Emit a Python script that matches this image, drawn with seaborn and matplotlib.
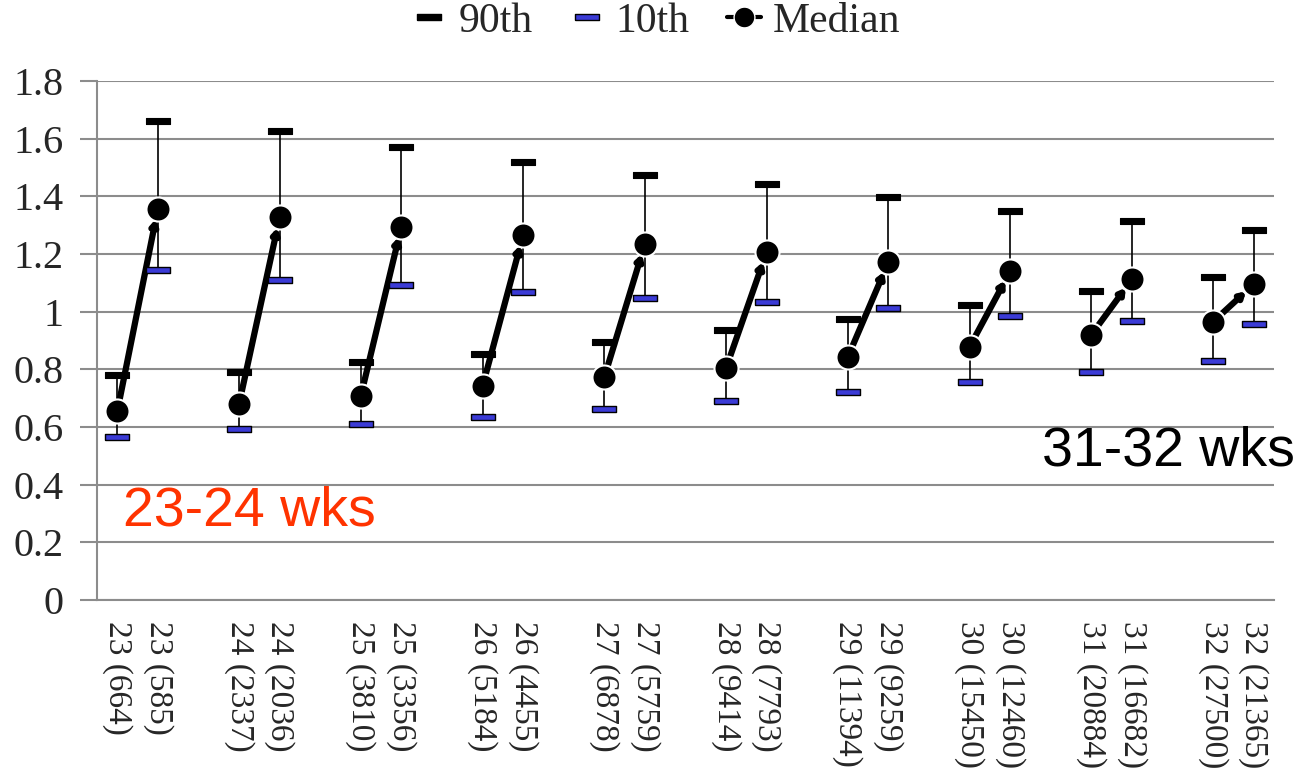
import numpy as np
import pandas as pd
import seaborn as sns
import matplotlib
matplotlib.use("Agg")
import matplotlib.pyplot as plt
from matplotlib.lines import Line2D

# Gestational week groups, with birth counts for the two compared cohorts
weeks = [23, 24, 25, 26, 27, 28, 29, 30, 31, 32]
n_first = [664, 2337, 3810, 5184, 6878, 9414, 11394, 15450, 20884, 27500]
n_second = [585, 2036, 3356, 4455, 5759, 7793, 9259, 12460, 16682, 21365]

# Percentiles for the first cohort of each week
p90_first = [0.78, 0.79, 0.825, 0.853, 0.895, 0.936, 0.975, 1.022, 1.070, 1.120]
med_first = [0.655, 0.680, 0.708, 0.742, 0.773, 0.805, 0.843, 0.878, 0.920, 0.965]
p10_first = [0.565, 0.593, 0.610, 0.636, 0.662, 0.690, 0.722, 0.757, 0.792, 0.830]

# Percentiles for the second cohort of each week
p90_second = [1.660, 1.625, 1.572, 1.520, 1.473, 1.442, 1.397, 1.350, 1.315, 1.282]
med_second = [1.357, 1.327, 1.295, 1.266, 1.235, 1.207, 1.172, 1.140, 1.112, 1.095]
p10_second = [1.145, 1.110, 1.092, 1.067, 1.046, 1.033, 1.012, 0.985, 0.968, 0.958]

y_ticks = [0, 0.2, 0.4, 0.6, 0.8, 1.0, 1.2, 1.4, 1.6, 1.8]

# Category axis: two labelled slots per week and an empty slot between weeks
categories = []
for i, w in enumerate(weeks):
    categories.append(f"{w} ({n_first[i]})")
    categories.append(f"{w} ({n_second[i]})")
    if i < len(weeks) - 1:
        categories.append("")

rows = []
for i, w in enumerate(weeks):
    for lab, p90, med, p10, grp in [
        (f"{w} ({n_first[i]})", p90_first[i], med_first[i], p10_first[i], "first"),
        (f"{w} ({n_second[i]})", p90_second[i], med_second[i], p10_second[i], "second"),
    ]:
        rows.append(dict(week=w, label=lab, pos=categories.index(lab) + 0.5,
                         p90=p90, median=med, p10=p10, group=grp))
df = pd.DataFrame(rows)

sns.set_style("white")
plt.rcParams["font.family"] = ["Liberation Serif", "DejaVu Serif"]

fig = plt.figure(figsize=(13.13, 7.72), dpi=100)
ax = fig.add_axes([0.0739, 0.2228, 0.8964, 0.6723])

grid_c = "#8c8c8c"
cap_verts = [(-1, -0.26), (1, -0.26), (1, 0.26), (-1, 0.26), (-1, -0.26)]

# whiskers from the 10th to the 90th percentile
ax.vlines(df["pos"], df["p10"], df["p90"], color="black", lw=1.2, zorder=2)

# median-to-median arrows for each week
for w, g in df.groupby("week"):
    a = g[g["group"] == "first"].iloc[0]
    b = g[g["group"] == "second"].iloc[0]
    ax.annotate("", xy=(b["pos"], b["median"]), xytext=(a["pos"], a["median"]),
                arrowprops=dict(arrowstyle="-|>,head_length=0.3,head_width=0.18",
                                lw=4.5, color="black", shrinkA=0, shrinkB=7.5),
                zorder=3)

# percentile caps
sns.scatterplot(data=df, x="pos", y="p90", marker=cap_verts, s=300, color="black",
                edgecolor="black", linewidth=0.8, ax=ax, zorder=4, legend=False)
sns.scatterplot(data=df, x="pos", y="p10", marker=cap_verts, s=300, color="#3b3bd6",
                edgecolor="black", linewidth=1.0, ax=ax, zorder=4, legend=False)
# medians
sns.scatterplot(data=df, x="pos", y="median", marker="o", s=300, color="black",
                edgecolor="white", linewidth=1.5, ax=ax, zorder=5, legend=False)

ax.set_xlim(0, len(categories))
ax.set_ylim(0, 1.8)
ax.set_yticks(y_ticks)
ax.set_yticklabels([f"{v:g}" for v in y_ticks], fontsize=29)
ax.set_xticks(df["pos"])
ax.set_xticklabels(df["label"], rotation=-90, fontsize=24, va="top", ha="center")
ax.set_xticks(np.arange(0, len(categories) + 1), minor=True)
ax.tick_params(axis="x", which="major", length=0, pad=15)
ax.tick_params(axis="x", which="minor", length=10, width=1.5, color=grid_c)
ax.tick_params(axis="y", which="major", length=12, width=1.5, color=grid_c, pad=12,
               left=True)
ax.set_xlabel("")
ax.set_ylabel("")
ax.yaxis.grid(True, color=grid_c, lw=1.5)
ax.xaxis.grid(False)
ax.set_axisbelow(True)
for s in ["top", "right"]:
    ax.spines[s].set_visible(False)
for s in ["left", "bottom"]:
    ax.spines[s].set_color(grid_c)
    ax.spines[s].set_linewidth(1.5)

ax.text(0.64, 0.26, "23-24 wks", fontsize=40, color="#ff3300",
        family=["Liberation Sans", "DejaVu Sans"], va="baseline", ha="left")
ax.text(23.28, 0.468, "31-32 wks", fontsize=40, color="black",
        family=["Liberation Sans", "DejaVu Sans"], va="baseline", ha="left")

handles = [
    Line2D([], [], ls="none", marker=cap_verts, ms=17, color="black", mec="black"),
    Line2D([], [], ls="none", marker=cap_verts, ms=17, color="#3b3bd6", mec="black"),
    Line2D([], [], ls="-", lw=3, marker="o", ms=15, color="black", mec="white"),
]
fig.legend(handles, ["90th", "10th", "Median"], loc="center",
           bbox_to_anchor=(0.5, 0.972), ncol=3, frameon=False, fontsize=30,
           handlelength=0.8, handletextpad=0.3, columnspacing=0.9)

fig.savefig("out.png", dpi=100)
